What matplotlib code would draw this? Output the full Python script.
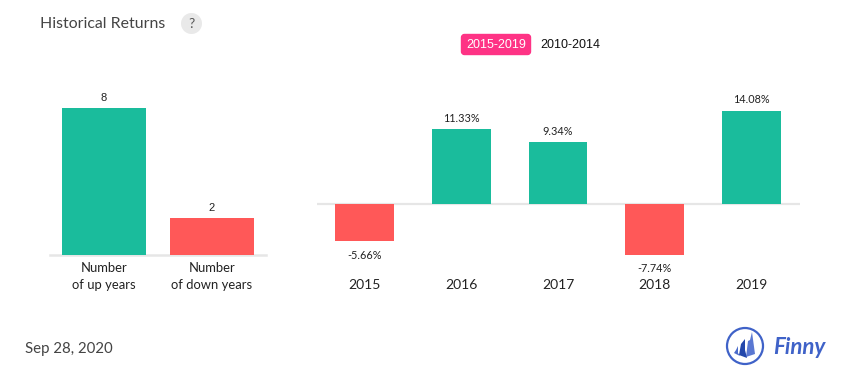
import matplotlib
matplotlib.use('AGG')
import matplotlib.pyplot as plt
from matplotlib.patches import Circle, FancyBboxPatch, Polygon

plt.rcParams['font.family'] = ['Lato', 'DejaVu Sans']

W, H = 855, 382
GREEN = '#1abc9c'
RED = '#ff5858'
GRID = '#e6e6e6'

count_labels = ['Number\nof up years', 'Number\nof down years']
count_values = [8, 2]
years = ['2015', '2016', '2017', '2018', '2019']
returns = [-5.66, 11.33, 9.34, -7.74, 14.08]
return_labels = ['-5.66%', '11.33%', '9.34%', '-7.74%', '14.08%']


def px_axes(fig, left, top, right, bottom):
    ax = fig.add_axes([left / W, 1 - bottom / H, (right - left) / W, (bottom - top) / H])
    return ax


def clean(ax):
    for s in ax.spines.values():
        s.set_visible(False)
    ax.set_yticks([])
    ax.tick_params(axis='x', length=0)
    ax.patch.set_alpha(0)


def bar_color(v):
    return GREEN if v >= 0 else RED


fig = plt.figure(figsize=(W / 100, H / 100), dpi=100, facecolor='white')

# left chart: up / down years
ax1 = px_axes(fig, 50, 90, 266, 255)
clean(ax1)
ax1.bar(range(2), count_values, width=84 / 108, color=[GREEN, RED], zorder=2)
ax1.set_xlim(-0.5, 1.5)
ax1.set_ylim(0, 165 / 18.35)
ax1.axhline(0, color=GRID, lw=1.8, zorder=1, clip_on=False)
ax1.set_xticks(range(2))
ax1.set_xticklabels([])
for i, lab in enumerate(count_labels):
    top, bottom = lab.split('\n')
    ax1.annotate(top, (i, 0), xytext=(0, -9), textcoords='offset points',
                 ha='center', va='center', fontsize=9.4, color='#222222')
    ax1.annotate(bottom, (i, 0), xytext=(0, -21.5), textcoords='offset points',
                 ha='center', va='center', fontsize=9.4, color='#222222')
for i, v in enumerate(count_values):
    ax1.annotate(str(v), (i, v), xytext=(0, 3.8), textcoords='offset points',
                 ha='center', va='bottom', fontsize=8, color='#222222',
                 family=['Liberation Sans', 'DejaVu Sans'])

# right chart: yearly returns
ax2 = px_axes(fig, 316.5, 90, 799.5, 270)
clean(ax2)
ax2.bar(range(5), returns, width=0.61, color=[bar_color(v) for v in returns], zorder=2)
ax2.set_xlim(-0.5, 4.5)
ax2.set_ylim((204 - 270) / 6.6, (204 - 90) / 6.6)
ax2.axhline(0, color=GRID, lw=1.6, zorder=1)
ax2.set_xticks(range(5))
ax2.set_xticklabels([])
for i, y in enumerate(years):
    ax2.text(i, -12.2, y, ha='center', va='center', fontsize=10, color='#222222')
for i, (v, lab) in enumerate(zip(returns, return_labels)):
    off = 8 if v >= 0 else -10
    ax2.annotate(lab, (i, v), xytext=(0, off), textcoords='offset points',
                 ha='center', va='center', fontsize=7.8, color='#222222')

# overlay in pixel coordinates for header, footer and logo
ov = fig.add_axes([0, 0, 1, 1])
ov.set_xlim(0, W)
ov.set_ylim(H, 0)
ov.axis('off')
ov.patch.set_alpha(0)

ov.text(40, 23.5, 'Historical Returns', fontsize=11.4, color='#444444', va='center', ha='left')
ov.add_patch(Circle((191.5, 23.5), 10.5, fc='#e9e9e9', ec='none'))
ov.text(191.5, 23.5, '?', fontsize=10, color='#555555', va='center', ha='center')

ov.add_patch(FancyBboxPatch((461.5, 34.5), 69, 20, boxstyle='round,pad=0,rounding_size=3',
                            fc='#fe3385', ec='#fe3385', lw=1))
ov.text(496, 44.5, '2015-2019', fontsize=9, color='white', va='center', ha='center',
        family=['Liberation Sans', 'DejaVu Sans'])
ov.text(570, 44.5, '2010-2014', fontsize=9, color='#111111', va='center', ha='center',
        family=['Liberation Sans', 'DejaVu Sans'])

ov.text(25, 349, 'Sep 28, 2020', fontsize=10.8, color='#444444', va='center', ha='left')

# logo
BLUE = '#3f62c8'
ov.add_patch(Circle((745, 346), 18, fc='white', ec=BLUE, lw=1.6))
ov.add_patch(Polygon([[748, 341], [750, 340], [750, 340], [752, 332], [755, 354], [746, 357], [747, 349]],
                     fc='#5a78d2', ec='none'))
ov.add_patch(Polygon([[741, 344], [745, 339], [745, 350], [747, 358], [739, 355]], fc='#2347ab', ec='none'))
ov.add_patch(Polygon([[736, 350], [738, 346], [738, 353], [740, 356], [734, 353]], fc='#4a6bcb', ec='none'))
ov.text(773, 347, 'Finny', fontsize=16, color=BLUE, style='italic', weight='bold',
        va='center', ha='left')

fig.savefig('out.png', dpi=100, facecolor='white')
